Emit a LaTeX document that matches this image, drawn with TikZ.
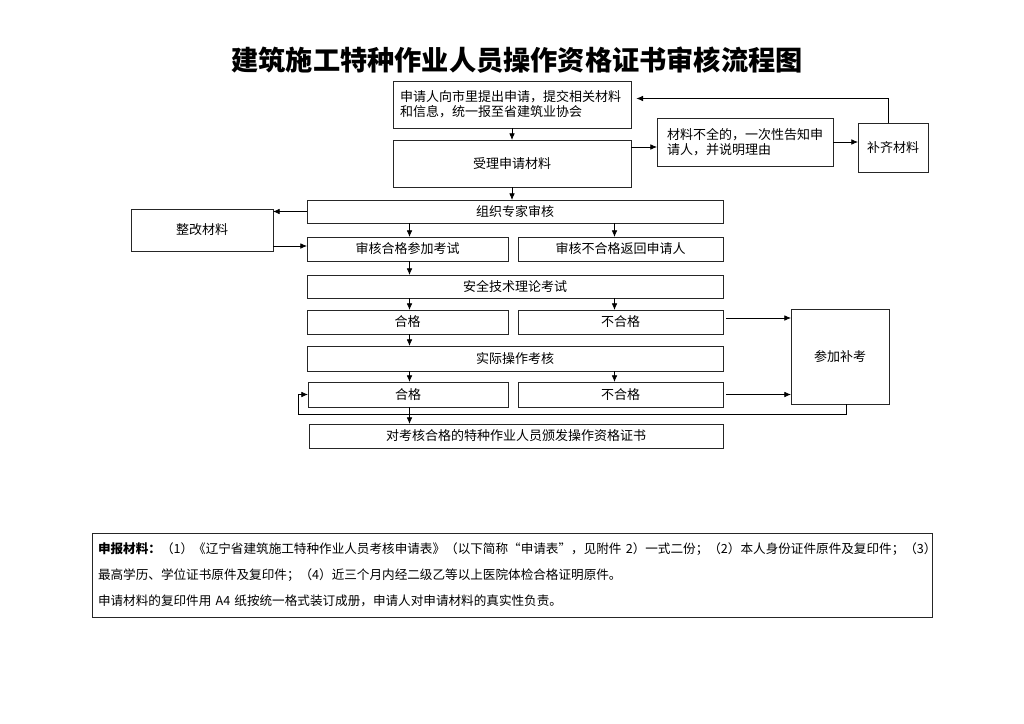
\documentclass[tikz,border=0pt]{standalone}
\usepackage{fontspec}
\setmainfont{Noto Sans CJK SC}
\usetikzlibrary{arrows.meta,calc}
\newcommand\mybox[7][]{\node[box,minimum width={(#5-#3)*0.75pt},minimum height={(#6-#4)*0.75pt},#1] (#2) at ({(#3+#5)/2},{(#4+#6)/2}) {#7};}
\tikzset{
  box/.style={draw=black!85,line width=0.7pt,inner sep=0pt,outer sep=0pt,font=\fontsize{9.75pt}{11.4pt}\selectfont,fill=white},
  arr/.style={draw=black,line width=0.6pt,-{Latex[length=5pt,width=4.2pt]}},
  ln/.style={draw=black,line width=0.6pt}
}
\begin{document}
\begin{tikzpicture}[x=0.75pt,y=-0.75pt]
\useasboundingbox (0,0) rectangle (1024,724);
\node[font=\fontsize{20.4pt}{24pt}\selectfont\bfseries] (title) at (517,60) {建筑施工特种作业人员操作资格证书审核流程图};
\mybox[align=left,text width=168pt]{b1}{393}{81}{631}{128}{申请人向市里提出申请，提交相关材料\\和信息，统一报至省建筑业协会}
\mybox{b2}{393}{140}{631}{187}{受理申请材料}
\mybox[align=left,text width=117pt]{ml}{657}{118}{833}{166}{材料不全的，一次性告知申\\请人，并说明理由}
\mybox{bq}{858}{123}{928}{172}{补齐材料}
\mybox{zz}{307}{200}{723}{223}{组织专家审核}
\mybox{zg}{131}{209}{273}{251}{整改材料}
\mybox{sh}{307}{237}{508}{261}{审核合格参加考试}
\mybox{sn}{518}{237}{723}{261}{审核不合格返回申请人}
\mybox{aq}{307}{275}{723}{298}{安全技术理论考试}
\mybox{hg1}{307}{310}{508}{334}{合格}
\mybox{bh1}{518}{310}{723}{334}{不合格}
\mybox{sj}{307}{346}{723}{371}{实际操作考核}
\mybox{hg2}{308}{382}{508}{407}{合格}
\mybox{bh2}{518}{382}{723}{407}{不合格}
\mybox{bk}{791}{309}{889}{404}{参加补考}
\mybox{fz}{309}{424}{723}{448}{对考核合格的特种作业人员颁发操作资格证书}
\mybox[align=left,text width=621pt,font=\fontsize{9.45pt}{19.4pt}\selectfont]{note}{92}{533}{932}{617}{\textbf{申报材料：}（1）《辽宁省建筑施工特种作业人员考核申请表》（以下简称“申请表”，见附件 2）一式二份；（2）本人身份证件原件及复印件；（3）\\最高学历、学位证书原件及复印件；（4）近三个月内经二级乙等以上医院体检合格证明原件。\\申请材料的复印件用 A4 纸按统一格式装订成册，申请人对申请材料的真实性负责。}
% connectors
\draw[arr] (b1.south) -- (b2.north);
\draw[arr] (b2.south) -- (b2.south |- zz.north);
\coordinate (c1) at ($(b2.east)+(0,-16.5)$);
\draw[arr] (c1) -- (c1 -| ml.west);
\draw[arr] (ml.east) -- (ml.east -| bq.west);
\coordinate (c2) at ($(bq.north)+(-5,0)$);
\coordinate (c3) at ($(b1.east)+(0,-6)$);
\draw[arr,shorten >=4pt] (c2) |- (c3);
\draw[arr] (zz.west) -- (zz.west -| zg.east);
\coordinate (c4) at ($(sh.west)+(0,-3)$);
\draw[arr] (c4 -| zg.east) -- (c4);
\coordinate (cl) at ($(sh.north)+(2,0)$);
\coordinate (cr) at ($(sn.north)+(-6,0)$);
\draw[arr] (cl |- zz.south) -- (cl);
\draw[arr] (cr |- zz.south) -- (cr);
\draw[arr] (cl |- sh.south) -- (cl |- aq.north);
\draw[arr] (cl |- aq.south) -- (cl |- hg1.north);
\draw[arr] (cr |- aq.south) -- (cr |- bh1.north);
\draw[arr] (cl |- hg1.south) -- (cl |- sj.north);
\draw[arr] (cl |- sj.south) -- (cl |- hg2.north);
\draw[arr] (cr |- sj.south) -- (cr |- bh2.north);
\coordinate (c6) at ($(bh1.east)+(3,-4)$);
\draw[arr] (c6) -- (c6 -| bk.west);
\coordinate (c7) at ($(bh2.east)+(3,0)$);
\draw[arr] (c7) -- (c7 -| bk.west);
\coordinate (c8) at ($(bk.south)+(6,0)$);
\coordinate (lp) at ($(hg2.west)+(-10,20)$);
\draw[arr] (c8) |- (lp) |- (hg2.west);
\draw[arr] (cl |- hg2.south) -- (cl |- fz.north);
\end{tikzpicture}
\end{document}
